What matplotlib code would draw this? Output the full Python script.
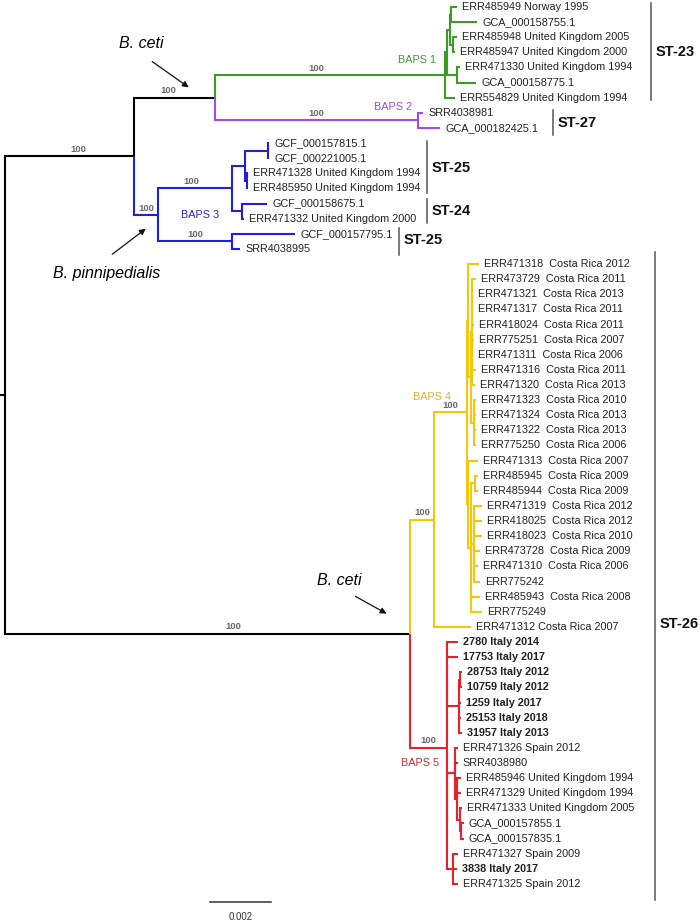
import matplotlib.pyplot as plt

plt.rcParams['font.family'] = ['Liberation Sans', 'DejaVu Sans']

# ---- tree data (branch lengths in units of 1e-4 substitutions/site) ----
node_names = ['root', 'U', 'C', 'G0', 'G1', 'G2', 'G4', 'G5', 'G3', 'P',
              'B', 'B1', 'B11', 'Bgcf', 'B112', 'B12', 'B2',
              'L', 'Y0', 'Y1', 'Yd', 'Yc', 'Ya', 'Ya1', 'Ya2', 'Yb', 'Yb1', 'Yb2',
              'R0', 'Rx', 'Ry', 'Ra', 'Ra1', 'Rb', 'Rb2', 'Rb3', 'Rb4', 'Rc']
node_parents = [None, 'root', 'U', 'C', 'G0', 'G1', 'G2', 'G2', 'G1', 'C',
                'U', 'B', 'B1', 'B11', 'B11', 'B1', 'B',
                'root', 'L', 'Y0', 'Y1', 'Y1', 'Yd', 'Ya', 'Ya', 'Yc', 'Yb', 'Yb',
                'L', 'R0', 'R0', 'Rx', 'Ra', 'Ry', 'Rb', 'Rb2', 'Rb3', 'Ry']
node_lengths = [1.6, 42.3, 26.6, 75.4, 0.7, 1.0, 0.3, 1.0, 3.3, 66.6,
                7.9, 24.3, 4.3, 7.5, 0.5, 3.3, 24.3,
                132.8, 7.9, 10.8, 0.3, 0.3, 1.0, 0.3, 1.0, 1.0, 1.3, 1.0,
                12.1, 0.2, 0.2, 3.7, 0.5, 2.4, 0.7, 1.0, 0.3, 1.8]

leaf_labels = [
    'ERR485949 Norway 1995', 'GCA_000158755.1', 'ERR485948 United Kingdom 2005',
    'ERR485947 United Kingdom 2000', 'ERR471330 United Kingdom 1994', 'GCA_000158775.1',
    'ERR554829 United Kingdom 1994', 'SRR4038981', 'GCA_000182425.1',
    'GCF_000157815.1', 'GCF_000221005.1', 'ERR471328 United Kingdom 1994',
    'ERR485950 United Kingdom 1994', 'GCF_000158675.1', 'ERR471332 United Kingdom 2000',
    'GCF_000157795.1', 'SRR4038995',
    'ERR471318  Costa Rica 2012', 'ERR473729  Costa Rica 2011', 'ERR471321  Costa Rica 2013',
    'ERR471317  Costa Rica 2011', 'ERR418024  Costa Rica 2011', 'ERR775251  Costa Rica 2007',
    'ERR471311  Costa Rica 2006', 'ERR471316  Costa Rica 2011', 'ERR471320  Costa Rica 2013',
    'ERR471323  Costa Rica 2010', 'ERR471324  Costa Rica 2013', 'ERR471322  Costa Rica 2013',
    'ERR775250  Costa Rica 2006', 'ERR471313  Costa Rica 2007', 'ERR485945  Costa Rica 2009',
    'ERR485944  Costa Rica 2009', 'ERR471319  Costa Rica 2012', 'ERR418025  Costa Rica 2012',
    'ERR418023  Costa Rica 2010', 'ERR473728  Costa Rica 2009', 'ERR471310  Costa Rica 2006',
    'ERR775242', 'ERR485943  Costa Rica 2008', 'ERR775249', 'ERR471312 Costa Rica 2007',
    '2780 Italy 2014', '17753 Italy 2017', '28753 Italy 2012', '10759 Italy 2012',
    '1259 Italy 2017', '25153 Italy 2018', '31957 Italy 2013', 'ERR471326 Spain 2012',
    'SRR4038980', 'ERR485946 United Kingdom 1994', 'ERR471329 United Kingdom 1994',
    'ERR471333 United Kingdom 2005', 'GCA_000157855.1', 'GCA_000157835.1',
    'ERR471327 Spain 2009', '3838 Italy 2017', 'ERR471325 Spain 2012']
leaf_parents = ['G4', 'G4', 'G5', 'G5', 'G3', 'G3', 'G0', 'P', 'P',
                'Bgcf', 'Bgcf', 'B112', 'B112', 'B12', 'B12', 'B2', 'B2',
                'Yd', 'Ya1', 'Ya1', 'Ya1', 'Ya1', 'Ya1', 'Ya1', 'Ya1', 'Ya1',
                'Ya2', 'Ya2', 'Ya2', 'Ya2', 'Yc', 'Yb1', 'Yb1',
                'Yb2', 'Yb2', 'Yb2', 'Yb2', 'Yb2', 'Yb2', 'Yb', 'Yb', 'Y0',
                'Rx', 'Rx', 'Ra1', 'Ra1', 'Ra', 'Ra', 'Ra', 'Rb', 'Rb',
                'Rb2', 'Rb2', 'Rb3', 'Rb4', 'Rb4', 'Rc', 'Rc', 'Rc']
leaf_lengths = [2.0, 8.5, 1.3, 0.7, 1.0, 6.2, 3.3, 1.6, 7.2,
                0.3, 0.3, 0.5, 0.5, 8.2, 0.7, 20.7, 2.6,
                3.6, 1.3, 0.3, 0.3, 0.7, 0.7, 0.5, 1.3, 1.0,
                0.7, 0.7, 0.7, 0.7, 3.3, 1.0, 1.0,
                2.6, 2.6, 2.6, 2.0, 1.3, 2.0, 3.0, 3.6, 12.1,
                3.4, 3.4, 0.5, 0.5, 0.8, 0.8, 1.0, 1.0, 1.0,
                1.3, 1.3, 0.7, 1.0, 1.0, 1.6, 1.3, 1.6]

support_nodes = ['U', 'C', 'G0', 'P', 'B', 'B1', 'B2', 'L', 'Y0', 'Y1', 'R0']
support_values = [100] * len(support_nodes)

baps_nodes = ['G0', 'P', 'B', 'Y0', 'R0']
baps_names = ['BAPS 1', 'BAPS 2', 'BAPS 3', 'BAPS 4', 'BAPS 5']

st_names = ['ST-23', 'ST-27', 'ST-25', 'ST-24', 'ST-25', 'ST-26']
st_first = [0, 7, 9, 13, 15, 17]
st_last = [6, 8, 12, 14, 16, 58]

scale_value = 0.002   # 20 units of 1e-4

# ---- layout / style ----
W, H = 700, 922
PPU = 3.05     # pixels per branch unit
Y0PX, DY = 7.0, 15.12
line_col = {'G0': '#3d9a22', 'P': '#a24be6', 'B': '#1f1fdc', 'Y0': '#f6c60a', 'R0': '#e8222b'}
text_col = {'G0': '#3d9a2c', 'P': '#9c50e0', 'B': '#2323d8', 'Y0': '#d8b030', 'R0': '#c0303a'}
baps_pos = [(417, 60), (393, 107), (200, 215), (432, 397), (420, 763)]
st_bar_x = [651, 553, 427, 427, 399, 655]
st_bar_y = [(3, 100), (110, 135), (141, 193), (199, 223), (228, 255), (252, 900)]
st_lab_y = [52, 123, 168, 211, 240, 624]
# shift of bootstrap labels along their branch (px), where the figure is off-centre
boot_shift = {'U': 9, 'C': -6, 'G0': -14, 'B1': -4, 'L': 26}


def px(x):
    return x / PPU


def py(y):
    return (y - Y0PX) / DY


children = {}
parent_of = {}
length_of = {}
for n, p, l in zip(node_names, node_parents, node_lengths):
    length_of[n] = l
    parent_of[n] = p
    if p is not None:
        children.setdefault(p, []).append(n)
for i, (p, l) in enumerate(zip(leaf_parents, leaf_lengths)):
    key = ('leaf', i)
    length_of[key] = l
    parent_of[key] = p
    children.setdefault(p, []).append(key)

depth, ypos, color = {}, {}, {}


def place(n, d, c):
    d = d + length_of[n]
    depth[n] = d
    if n in line_col:
        c = line_col[n]
    color[n] = c
    if isinstance(n, tuple):
        ypos[n] = n[1]
        return
    ys = []
    for ch in children[n]:
        place(ch, d, c)
        ys.append(ypos[ch])
    ypos[n] = (min(ys) + max(ys)) / 2


place('root', 0.0, 'black')

fig = plt.figure(figsize=(W / 100, H / 100), dpi=100)
ax = fig.add_axes([0, 0, 1, 1])
ax.set_xlim(0, W / PPU)
ax.set_ylim(py(H), py(0))
ax.axis('off')

lw = 1.5
# root stub
ax.plot([0, depth['root']], [ypos['root']] * 2, color='black', lw=lw, solid_capstyle='butt')
for n, p in parent_of.items():
    if p is None:
        continue
    xp, yp = depth[p], ypos[p]
    ax.plot([xp, xp, depth[n]], [yp, ypos[n], ypos[n]], color=color[n], lw=lw,
            solid_joinstyle='miter', solid_capstyle='butt')

# leaf labels
for i, lab in enumerate(leaf_labels):
    key = ('leaf', i)
    ax.text(depth[key] + px(5), i, lab, fontsize=7.8, va='center', ha='left',
            color='#222222', fontweight='bold' if 'Italy' in lab else 'normal')

# bootstrap values
for n, v in zip(support_nodes, support_values):
    xm = (depth[parent_of[n]] + depth[n]) / 2 + px(boot_shift.get(n, 0))
    ax.text(xm, ypos[n] - 0.45, str(v), fontsize=6.8, fontweight='bold',
            color='#6a6a6a', ha='center', va='center')

# BAPS labels
for n, name, (bx, by) in zip(baps_nodes, baps_names, baps_pos):
    ax.text(px(bx), py(by), name, fontsize=7.8, color=text_col[n], ha='center', va='center')

# ST bars
for name, bx, (y1, y2), ly in zip(st_names, st_bar_x, st_bar_y, st_lab_y):
    ax.plot([px(bx), px(bx)], [py(y1), py(y2)], color='#555555', lw=1.1)
    ax.text(px(bx + 5), py(ly), name, fontsize=10.5, fontweight='bold', ha='left',
            va='center', color='#111111')

# species annotations
arrow = dict(arrowstyle='-|>', color='#111111', lw=0.9, mutation_scale=9)
ax.text(px(141), py(44), 'B. ceti', style='italic', fontsize=11.5, ha='center', va='center')
ax.annotate('', xy=(px(191), py(89)), xytext=(px(150), py(60)), arrowprops=arrow)
ax.text(px(107), py(273), 'B. pinnipedialis', style='italic', fontsize=11.5, ha='center', va='center')
ax.annotate('', xy=(px(148), py(227)), xytext=(px(110), py(256)), arrowprops=arrow)
ax.text(px(339), py(580), 'B. ceti', style='italic', fontsize=11.5, ha='center', va='center')
ax.annotate('', xy=(px(389), py(615)), xytext=(px(353), py(595)), arrowprops=arrow)

# scale bar
sx = px(210)
ax.plot([sx, sx + scale_value * 1e4], [py(902)] * 2, color='#333333', lw=1.1)
ax.text(sx + scale_value * 1e4 / 2, py(917), str(scale_value), fontsize=7,
        color='#333333', ha='center', va='center')

fig.savefig('out.png', dpi=100)
